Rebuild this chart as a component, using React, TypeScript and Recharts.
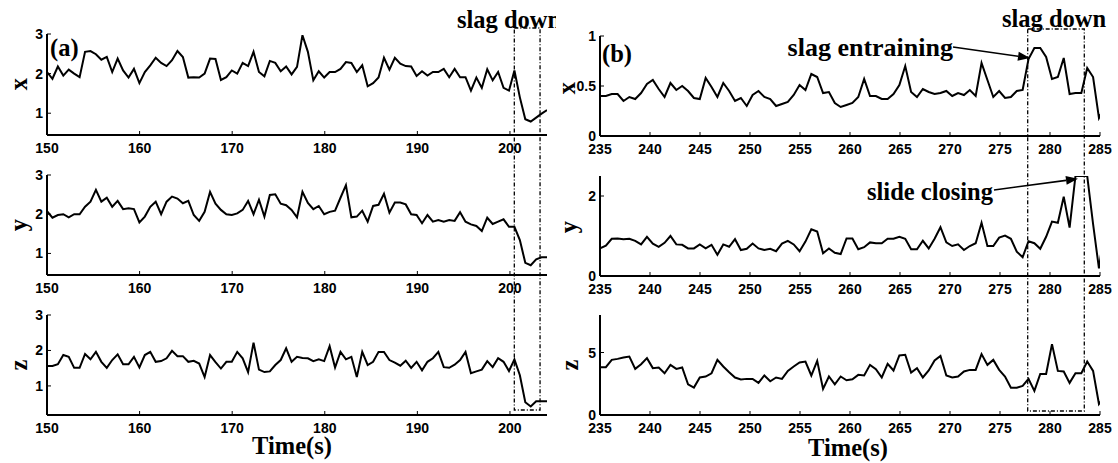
import React from 'react';
import { LineChart, Line, XAxis, YAxis, ReferenceArea, ReferenceLine } from 'recharts';

// ---------- data ----------
const SAMPLE_STEP = 0.587; // seconds between samples
const leftStart = 150;
const rightStart = 235;

const leftX = [
  2.04, 1.87, 2.18, 1.95, 2.10, 2.00, 1.91, 2.55, 2.57, 2.49,
  2.35, 2.42, 2.04, 2.38, 2.08, 1.90, 2.12, 1.76, 2.04, 2.21,
  2.40, 2.27, 2.19, 2.34, 2.57, 2.42, 1.90, 1.91, 1.90, 2.00,
  2.38, 2.37, 1.84, 1.91, 2.08, 2.00, 2.27, 2.19, 2.55, 2.04,
  1.93, 2.32, 2.27, 2.06, 2.18, 1.98, 2.17, 2.97, 2.55, 1.83,
  2.06, 1.90, 2.04, 2.04, 2.12, 2.29, 2.27, 2.04, 2.21, 1.68,
  1.76, 1.90, 2.40, 2.10, 2.40, 2.25, 2.19, 2.18, 1.94, 2.06,
  1.95, 2.04, 2.04, 2.12, 1.91, 2.12, 1.91, 1.91, 1.57, 1.90,
  1.64, 2.11, 1.83, 2.04, 1.64, 1.57, 2.08, 1.40, 0.85, 0.79,
  0.89, 0.99, 1.08,
];
const leftY = [
  2.08, 1.91, 1.98, 2.00, 1.92, 2.00, 2.00, 2.19, 2.32, 2.62,
  2.32, 2.42, 2.19, 2.34, 2.13, 2.15, 2.13, 1.79, 1.94, 2.19,
  2.32, 2.00, 2.32, 2.45, 2.40, 2.28, 2.34, 1.98, 1.83, 2.06,
  2.57, 2.27, 2.11, 2.00, 1.98, 2.02, 2.11, 2.34, 2.00, 2.37,
  1.94, 2.49, 2.51, 2.27, 2.23, 2.11, 1.92, 2.57, 2.29, 2.13,
  2.21, 2.00, 2.06, 2.09, 2.42, 2.74, 1.92, 1.94, 2.09, 1.81,
  2.21, 2.24, 2.52, 2.04, 2.30, 2.30, 2.25, 2.00, 1.98, 1.77,
  1.98, 1.81, 1.85, 1.81, 1.85, 1.83, 2.05, 1.81, 1.74, 1.70,
  1.57, 1.91, 1.75, 1.81, 1.87, 1.68, 1.68, 1.34, 0.76, 0.70,
  0.85, 0.90, 0.90,
];
const leftZ = [
  1.56, 1.56, 1.61, 1.87, 1.82, 1.51, 1.51, 1.90, 1.75, 1.96,
  1.68, 1.51, 1.73, 1.89, 1.61, 1.61, 1.82, 1.52, 1.87, 1.96,
  1.68, 1.70, 1.78, 1.99, 1.84, 1.84, 1.68, 1.71, 1.63, 1.25,
  1.87, 1.67, 1.49, 1.68, 1.68, 1.96, 1.78, 1.39, 2.22, 1.46,
  1.39, 1.41, 1.59, 1.73, 2.06, 1.68, 1.82, 1.79, 1.78, 1.70,
  1.75, 1.70, 2.12, 1.52, 1.96, 1.75, 1.82, 1.25, 1.96, 1.59,
  1.68, 1.96, 1.96, 1.73, 1.66, 1.57, 1.71, 1.51, 1.68, 1.44,
  1.68, 1.78, 1.96, 1.53, 1.51, 1.60, 1.73, 1.96, 1.36, 1.41,
  1.46, 1.70, 1.53, 1.78, 1.68, 1.42, 1.75, 1.30, 0.54, 0.42,
  0.57, 0.57, 0.57,
];

const rightX = [
  0.40, 0.40, 0.42, 0.42, 0.35, 0.39, 0.37, 0.43, 0.52, 0.56,
  0.47, 0.39, 0.53, 0.46, 0.50, 0.45, 0.38, 0.37, 0.58, 0.49,
  0.39, 0.53, 0.45, 0.35, 0.38, 0.30, 0.41, 0.45, 0.39, 0.37,
  0.30, 0.32, 0.34, 0.41, 0.51, 0.46, 0.62, 0.59, 0.43, 0.44,
  0.33, 0.29, 0.31, 0.33, 0.39, 0.57, 0.40, 0.40, 0.37, 0.37,
  0.42, 0.51, 0.70, 0.44, 0.39, 0.47, 0.44, 0.42, 0.43, 0.45,
  0.40, 0.43, 0.41, 0.46, 0.40, 0.73, 0.56, 0.39, 0.45, 0.38,
  0.39, 0.45, 0.46, 0.77, 0.88, 0.88, 0.79, 0.57, 0.59, 0.78,
  0.42, 0.43, 0.43, 0.68, 0.59, 0.18, 0.30,
];
const rightY = [
  0.69, 0.76, 0.93, 0.94, 0.92, 0.93, 0.88, 0.79, 0.98, 0.81,
  0.73, 0.83, 1.00, 0.79, 0.78, 0.69, 0.69, 0.79, 0.69, 0.78,
  0.53, 0.79, 0.73, 0.92, 0.65, 0.68, 0.81, 0.69, 0.65, 0.68,
  0.62, 0.81, 0.88, 0.79, 0.62, 0.86, 1.17, 1.11, 0.57, 0.69,
  0.58, 0.55, 0.94, 0.94, 0.67, 0.72, 0.84, 0.82, 0.82, 0.93,
  0.93, 0.98, 0.93, 0.67, 0.67, 0.88, 0.69, 0.93, 1.22, 0.84,
  0.75, 0.79, 0.65, 0.75, 0.82, 1.33, 0.75, 0.75, 0.96, 1.01,
  0.93, 0.61, 0.47, 0.87, 0.82, 0.68, 0.98, 1.36, 1.33, 1.98,
  1.21, 2.50, 2.50, 2.50, 1.30, 0.19, 1.20,
];
const rightZ = [
  3.83, 3.83, 4.41, 4.49, 4.60, 4.68, 3.69, 4.06, 4.55, 3.75,
  3.80, 3.34, 4.01, 3.69, 3.80, 2.46, 2.19, 3.00, 3.08, 3.34,
  4.41, 3.88, 3.42, 3.00, 2.84, 2.89, 2.89, 2.57, 3.16, 2.70,
  3.00, 2.89, 3.53, 3.88, 4.20, 4.28, 3.16, 4.33, 2.09, 3.08,
  2.46, 3.08, 2.78, 2.86, 3.21, 3.16, 4.01, 3.67, 3.00, 4.09,
  3.56, 4.76, 4.82, 3.40, 3.75, 3.00, 3.56, 4.36, 4.73, 3.16,
  3.00, 3.08, 3.48, 3.61, 3.61, 4.87, 4.01, 4.41, 3.61, 3.08,
  2.19, 2.19, 2.33, 2.89, 1.93, 3.29, 3.29, 5.67, 3.53, 3.48,
  2.57, 3.34, 3.34, 4.28, 3.53, 0.88, 1.50,
];

const leftTimeTicks = [150, 160, 170, 180, 190, 200];
const rightTimeTicks = [235, 240, 245, 250, 255, 260, 265, 270, 275, 280, 285];
const leftValueTicks = [1, 2, 3];
const rightXTicks = [0, 0.5, 1];
const rightYTicks = [0, 2];
const rightZTicks = [0, 5];

// annotation anchors (data units)
const leftSlagBox: [number, number] = [200.47, 203.25];
const rightSlagBox: [number, number] = [277.77, 283.43];
const entrainArrow = [{ x: 270.3, y: 0.89 }, { x: 278.0, y: 0.78 }];
const closingArrow = [{ x: 274.4, y: 2.15 }, { x: 282.8, y: 2.43 }];

const leftData = leftX.map((v, i) => ({
  t: +(leftStart + i * SAMPLE_STEP).toFixed(3), x: v, y: leftY[i], z: leftZ[i],
}));
const rightData = rightX.map((v, i) => ({
  t: +(rightStart + i * SAMPLE_STEP).toFixed(3), x: v, y: rightY[i], z: rightZ[i],
}));

// ---------- styling ----------
const SANS = '"Liberation Sans", Arial, sans-serif';
const SERIF = '"Liberation Serif", "Times New Roman", serif';
const AX = { stroke: '#000', strokeWidth: 2 };
const TICK = 4;
const BIG = 24.5;

const BottomTick = (props: any) => {
  const { x, y, payload } = props;
  return (
    <g>
      <line x1={x} x2={x} y1={y} y2={y - TICK} stroke="#000" strokeWidth={1} />
      <text x={x} y={y + 18} textAnchor="middle" fontFamily={SANS} fontWeight="bold" fontSize={14} fill="#000">
        {String(payload.value)}
      </text>
    </g>
  );
};
const TopTick = (props: any) => {
  const { x, y } = props;
  return <line x1={x} x2={x} y1={y} y2={y + TICK} stroke="#000" strokeWidth={1} />;
};
const LeftTick = (props: any) => {
  const { x, y, payload } = props;
  return (
    <g>
      <line x1={x} x2={x + TICK} y1={y} y2={y} stroke="#000" strokeWidth={1} />
      <text x={x - 4} y={y + 5} textAnchor="end" fontFamily={SANS} fontWeight="bold" fontSize={14} fill="#000">
        {String(payload.value)}
      </text>
    </g>
  );
};
const RightTick = (props: any) => {
  const { x, y } = props;
  return <line x1={x} x2={x - TICK} y1={y} y2={y} stroke="#000" strokeWidth={1} />;
};

const Arrow = (props: any) => {
  const { x1, y1, x2, y2 } = props;
  const ang = Math.atan2(y2 - y1, x2 - x1);
  const L = 12, W = 4.5;
  const bx = x2 - L * Math.cos(ang), by = y2 - L * Math.sin(ang);
  const px = -Math.sin(ang) * W, py = Math.cos(ang) * W;
  return (
    <g>
      <line x1={x1} y1={y1} x2={bx} y2={by} stroke="#000" strokeWidth={1.6} />
      <polygon points={`${x2},${y2} ${bx + px},${by + py} ${bx - px},${by - py}`} fill="#000" />
    </g>
  );
};

const LW = 45, XH = 26, MT = 10, MR = 18;

type SubProps = {
  left: number; top: number; w: number; h: number; data: any[]; k: string;
  xDomain: [number, number]; xTicks: number[]; yDomain: [number, number]; yTicks: number[];
  children?: React.ReactNode;
};

function Sub(p: SubProps) {
  return (
    <div style={{ position: 'absolute', left: p.left - LW, top: p.top - MT }}>
      <LineChart width={LW + p.w + MR} height={MT + p.h + XH} data={p.data} margin={{ top: MT, right: MR, bottom: 0, left: 0 }}>
        <XAxis xAxisId="b" type="number" dataKey="t" domain={p.xDomain} ticks={p.xTicks} allowDataOverflow interval={0}
          tickSize={0} tickMargin={0} height={XH} tick={BottomTick} tickLine={false} axisLine={AX} />
        <XAxis xAxisId="top" orientation="top" type="number" dataKey="t" domain={p.xDomain} ticks={p.xTicks} allowDataOverflow interval={0}
          tickSize={0} tickMargin={0} height={0} tick={TopTick} tickLine={false} axisLine={AX} />
        <YAxis yAxisId="l" type="number" domain={p.yDomain} ticks={p.yTicks} allowDataOverflow interval={0}
          tickSize={0} tickMargin={0} width={LW} tick={LeftTick} tickLine={false} axisLine={AX} />
        <YAxis yAxisId="r" orientation="right" type="number" domain={p.yDomain} ticks={p.yTicks} allowDataOverflow interval={0}
          tickSize={0} tickMargin={0} width={0} tick={RightTick} tickLine={false} axisLine={AX} />
        <Line xAxisId="top" yAxisId="r" dataKey={p.k} stroke="none" dot={false} activeDot={false} isAnimationActive={false} />
        <Line xAxisId="b" yAxisId="l" type="linear" dataKey={p.k} stroke="#000" strokeWidth={2} dot={false}
          activeDot={false} isAnimationActive={false} strokeLinejoin="miter" />
        {p.children}
      </LineChart>
    </div>
  );
}

function BoxOverlay(p: { left: number; top: number; w: number; h: number; data: any[]; xDomain: [number, number]; box: [number, number] }) {
  const P = 2;
  return (
    <div style={{ position: 'absolute', left: p.left - P, top: p.top - P, pointerEvents: 'none' }}>
      <LineChart width={p.w + 2 * P} height={p.h + 2 * P} data={p.data} margin={{ top: P, right: P, bottom: P, left: P }}>
        <XAxis type="number" dataKey="t" domain={p.xDomain} allowDataOverflow hide />
        <YAxis type="number" domain={[0, 1]} allowDataOverflow hide />
        <Line dataKey="x" stroke="none" dot={false} activeDot={false} isAnimationActive={false} />
        <ReferenceArea x1={p.box[0]} x2={p.box[1]} y1={0} y2={1} fill="none" fillOpacity={0}
          stroke="#000" strokeWidth={1.3} strokeDasharray="4 2 1 2" ifOverflow="visible" />
      </LineChart>
    </div>
  );
}

export default function App() {
  const LD: [number, number] = [150, 204];
  const RD: [number, number] = [235, 285];
  const ts = { fontFamily: SERIF, fontWeight: 'bold' as const, fill: '#000', fontSize: BIG };
  return (
    <div style={{ position: 'absolute', left: 0, top: 0, width: 1118, height: 463, background: '#fff', overflow: 'hidden' }}>
      {/* panel (a) */}
      <Sub left={47} top={34} w={500} h={101} data={leftData} k="x" xDomain={LD} xTicks={leftTimeTicks} yDomain={[0.45, 3]} yTicks={leftValueTicks} />
      <Sub left={47} top={175} w={500} h={100} data={leftData} k="y" xDomain={LD} xTicks={leftTimeTicks} yDomain={[0.45, 3]} yTicks={leftValueTicks} />
      <Sub left={47} top={315} w={500} h={100} data={leftData} k="z" xDomain={LD} xTicks={leftTimeTicks} yDomain={[0.18, 3]} yTicks={leftValueTicks} />
      {/* panel (b) */}
      <Sub left={600} top={36} w={500} h={100} data={rightData} k="x" xDomain={RD} xTicks={rightTimeTicks} yDomain={[0, 1]} yTicks={rightXTicks}>
        <ReferenceLine xAxisId="b" yAxisId="l" segment={entrainArrow} shape={Arrow} ifOverflow="visible" />
      </Sub>
      <Sub left={600} top={176} w={500} h={100} data={rightData} k="y" xDomain={RD} xTicks={rightTimeTicks} yDomain={[0, 2.5]} yTicks={rightYTicks}>
        <ReferenceLine xAxisId="b" yAxisId="l" segment={closingArrow} shape={Arrow} ifOverflow="visible" />
      </Sub>
      <Sub left={600} top={315} w={500} h={100} data={rightData} k="z" xDomain={RD} xTicks={rightTimeTicks} yDomain={[0, 8]} yTicks={rightZTicks} />

      <BoxOverlay left={47} top={28} w={500} h={382} data={leftData} xDomain={LD} box={leftSlagBox} />
      <BoxOverlay left={600} top={29} w={500} h={382} data={rightData} xDomain={RD} box={rightSlagBox} />

      <svg width={1118} height={463} style={{ position: 'absolute', left: 0, top: 0, pointerEvents: 'none' }}>
        <defs>
          <clipPath id="clipSlagA"><rect x={440} y={0} width={116} height={40} /></clipPath>
        </defs>
        <text x={50} y={47} dominantBaseline="central" {...ts}>(a)</text>
        <text x={602} y={53} dominantBaseline="central" {...ts}>(b)</text>
        <g clipPath="url(#clipSlagA)">
          <text x={457} y={19} dominantBaseline="central" {...ts}>slag down</text>
        </g>
        <text x={1002} y={18} dominantBaseline="central" {...ts}>slag down</text>
        <text x={953} y={47} textAnchor="end" dominantBaseline="central" {...ts} fontSize={26}>slag entraining</text>
        <text x={867} y={191} dominantBaseline="central" {...ts}>slide closing</text>
        <text x={292} y={445} textAnchor="middle" dominantBaseline="central" {...ts}>Time(s)</text>
        <text x={848} y={447} textAnchor="middle" dominantBaseline="central" {...ts}>Time(s)</text>
        <text x={18} y={84} transform="rotate(-90 18 84)" textAnchor="middle" dominantBaseline="central" {...ts}>x</text>
        <text x={18} y={225} transform="rotate(-90 18 225)" textAnchor="middle" dominantBaseline="central" {...ts}>y</text>
        <text x={18} y={365} transform="rotate(-90 18 365)" textAnchor="middle" dominantBaseline="central" {...ts}>z</text>
        <text x={566} y={88} transform="rotate(-90 566 88)" textAnchor="middle" dominantBaseline="central" {...ts}>x</text>
        <text x={568} y={227} transform="rotate(-90 568 227)" textAnchor="middle" dominantBaseline="central" {...ts}>y</text>
        <text x={569} y={365} transform="rotate(-90 569 365)" textAnchor="middle" dominantBaseline="central" {...ts}>z</text>
      </svg>
    </div>
  );
}
